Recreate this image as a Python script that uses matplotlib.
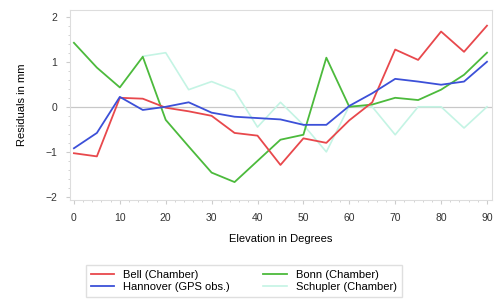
import numpy as np
import matplotlib
matplotlib.use("Agg")
import matplotlib.pyplot as plt
from matplotlib.ticker import MultipleLocator

# Elevation angles (degrees)
elevation = [0, 5, 10, 15, 20, 25, 30, 35, 40, 45, 50, 55, 60, 65, 70, 75, 80, 85, 90]

# Residuals in mm
bell = [-1.03, -1.1, 0.2, 0.18, -0.02, -0.1, -0.2, -0.58, -0.64, -1.29, -0.7, -0.8, -0.3, 0.1, 1.27, 1.04, 1.67, 1.22, 1.8]
hannover = [-0.92, -0.58, 0.22, -0.07, 0.0, 0.1, -0.13, -0.22, -0.25, -0.28, -0.4, -0.4, 0.02, 0.3, 0.62, 0.56, 0.49, 0.56, 1.0]
bonn = [1.42, 0.87, 0.43, 1.11, -0.29, -0.88, -1.46, -1.67, -1.2, -0.73, -0.62, 1.09, 0.0, 0.05, 0.2, 0.15, 0.38, 0.71, 1.2]
schupler = [np.nan, np.nan, np.nan, 1.12, 1.2, 0.38, 0.56, 0.36, -0.45, 0.1, -0.4, -1.0, 0.02, 0.0, -0.62, 0.0, 0.0, -0.47, 0.0]

labels = ["Bell (Chamber)", "Hannover (GPS obs.)", "Bonn (Chamber)", "Schupler (Chamber)"]

plt.rcParams["font.family"] = ["Liberation Sans", "DejaVu Sans"]
plt.rcParams["font.size"] = 8

# Creating the figure
fig = plt.figure(figsize=(4.95, 3.0), dpi=100)
ax = fig.add_axes([0.141, 0.333, 0.853, 0.634])

# Reference line at zero
ax.axhline(0, color="#c8c8c8", linewidth=0.9, zorder=1)

# Adding the series
l1, = ax.plot(elevation, bell, color="#e8484c", linewidth=1.3, zorder=3)
l2, = ax.plot(elevation, hannover, color="#3c50d8", linewidth=1.3, zorder=4)
l3, = ax.plot(elevation, bonn, color="#4cba3c", linewidth=1.3, zorder=2)
l4, = ax.plot(elevation, schupler, color="#c4f4e4", linewidth=1.2, zorder=1.5)

# Customizing axis
ax.set_xlim(-0.9, 91.1)
ax.set_ylim(-2.07, 2.15)
ax.xaxis.set_major_locator(MultipleLocator(10))
ax.xaxis.set_minor_locator(MultipleLocator(2))
ax.yaxis.set_major_locator(MultipleLocator(1))
ax.yaxis.set_minor_locator(MultipleLocator(0.2))
ax.set_xlabel("Elevation in Degrees", labelpad=8)
ax.set_ylabel("Residuals in mm", labelpad=13)

for side in ["left", "bottom", "top", "right"]:
    ax.spines[side].set_color("#dddddd")
    ax.spines[side].set_linewidth(0.8)
ax.tick_params(which="both", colors="#cccccc", labelcolor="#333333", labelsize=7.5)
ax.tick_params(which="major", length=3, pad=6)
ax.tick_params(which="minor", length=1.5)

# Legend below the axis
fig.legend([l1, l2, l3, l4], labels, ncol=2, loc="upper left",
           bbox_to_anchor=(80 / 495, 1 - 259 / 300), frameon=True,
           fancybox=False, edgecolor="#d8d8d8", handlelength=2.1,
           handletextpad=0.8, columnspacing=3.0, labelspacing=0.15,
           borderpad=0.5)

plt.savefig("out.png")
plt.close()
